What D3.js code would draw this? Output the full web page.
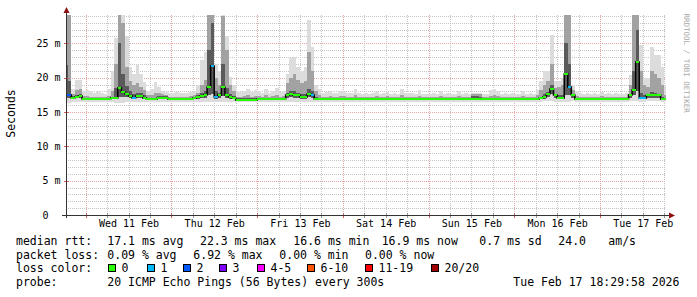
<!DOCTYPE html>
<html>
<head>
<meta charset="utf-8">
<script src="https://cdn.jsdelivr.net/npm/d3@7"></script>
<style>
  body { margin: 0; background: #fff; }
  svg { display: block; font-family: "DejaVu Sans Mono", monospace; }
</style>
</head>
<body>
<svg id="chart" width="697" height="297"></svg>
<script>
// one value per clock hour, first bin starts Tue 10 Feb 18:00 (last one is Tue 17 Feb 18:00)
const medianMs = [
  17.4, 17.4, 17.1, 17.2, 17.3, 16.9,
  16.85, 16.85, 16.85, 16.85, 16.85, 16.85, 16.9, 17.0, 17.0, 18.45, 17.85, 17.57, 17.3, 17.07, 17.3, 17.3, 17.07, 16.9, 16.85, 16.85, 17.1, 17.1, 17.1, 16.85,
  16.85, 16.85, 16.85, 16.85, 16.85, 16.9, 17.0, 17.2, 17.3, 17.47, 18.6, 21.7, 17.2, 17.47, 18.7, 17.47, 17.2, 17.0, 16.8, 16.8, 16.8, 16.8, 16.8, 16.8,
  16.85, 16.85, 16.85, 16.85, 16.85, 16.85, 16.85, 16.85, 17.5, 17.6, 17.4, 17.4, 17.2, 17.2, 17.6, 17.4, 16.9, 16.85, 16.85, 16.85, 16.85, 16.85, 16.85, 16.85,
  16.85, 16.85, 16.85, 16.85, 16.85, 16.85, 16.85, 16.85, 16.85, 16.85, 16.85, 16.85, 16.85, 16.85, 16.85, 16.85, 16.85, 16.85, 16.85, 16.85, 16.85, 16.85, 16.85, 16.85,
  16.85, 16.85, 16.85, 16.85, 16.85, 16.85, 16.85, 16.85, 16.85, 16.85, 16.85, 16.85, 16.95, 16.95, 16.9, 16.85, 16.85, 16.85, 16.85, 16.85, 16.85, 16.85, 16.85, 16.85,
  16.85, 16.85, 16.85, 16.85, 16.85, 16.85, 16.85, 17.0, 17.2, 17.6, 18.3, 17.4, 17.1, 17.1, 20.5, 18.6, 17.4, 16.85, 16.85, 16.85, 16.85, 16.85, 16.85, 16.85,
  16.85, 16.85, 16.85, 16.85, 16.85, 16.85, 16.85, 16.85, 17.4, 18.2, 22.3, 17.1, 17.1, 17.4, 17.4, 17.4, 17.4, 16.9, 16.85
];
// lost pings out of 20
const lossCount = [
  2, 2, 0, 0, 0, 0,
  0, 0, 0, 0, 0, 0, 0, 0, 0, 0, 0, 0, 0, 1, 0, 0, 0, 0, 0, 0, 0, 0, 0, 0,
  0, 0, 0, 0, 0, 0, 0, 0, 0, 0, 0, 1, 1, 0, 0, 0, 0, 0, 0, 0, 0, 0, 0, 0,
  0, 0, 0, 0, 0, 0, 0, 0, 0, 0, 0, 0, 0, 0, 0, 1, 0, 0, 0, 0, 0, 0, 0, 0,
  0, 0, 0, 0, 0, 0, 0, 0, 0, 0, 0, 0, 0, 0, 0, 0, 0, 0, 0, 0, 0, 0, 0, 0,
  0, 0, 0, 0, 0, 0, 0, 0, 0, 0, 0, 0, 0, 0, 0, 0, 0, 0, 0, 0, 0, 0, 0, 0,
  0, 0, 0, 0, 0, 0, 0, 0, 0, 0, 0, 0, 0, 0, 0, 1, 0, 0, 0, 0, 0, 0, 0, 0,
  0, 0, 0, 0, 0, 0, 0, 0, 0, 0, 0, 1, 1, 0, 0, 0, 0, 0, 0
];
// outer smoke (fastest .. slowest ping)
const lowMs = [
  16.3, 16.3, 16.5, 16.5, 16.5, 16.45,
  16.45, 16.45, 16.45, 16.45, 16.45, 16.45, 16.45, 16.4, 16.3, 16.3, 16.35, 16.5, 16.5, 16.45, 16.45, 16.45, 16.45, 16.45, 16.45, 16.45, 16.5, 16.5, 16.5, 16.45,
  16.45, 16.45, 16.45, 16.45, 16.45, 16.45, 16.45, 16.5, 16.5, 16.5, 16.4, 16.4, 16.4, 16.5, 16.4, 16.5, 16.5, 16.45, 16.4, 16.4, 16.4, 16.4, 16.4, 16.4,
  16.45, 16.45, 16.45, 16.45, 16.45, 16.45, 16.45, 16.45, 16.5, 16.5, 16.5, 16.5, 16.5, 16.5, 16.5, 16.5, 16.45, 16.45, 16.45, 16.45, 16.45, 16.45, 16.45, 16.45,
  16.45, 16.45, 16.45, 16.45, 16.45, 16.45, 16.45, 16.45, 16.45, 16.45, 16.45, 16.45, 16.45, 16.45, 16.45, 16.45, 16.45, 16.45, 16.45, 16.45, 16.45, 16.45, 16.45, 16.45,
  16.45, 16.45, 16.45, 16.45, 16.45, 16.45, 16.45, 16.45, 16.45, 16.45, 16.45, 16.45, 16.45, 16.45, 16.45, 16.45, 16.45, 16.45, 16.45, 16.45, 16.45, 16.45, 16.45, 16.45,
  16.45, 16.45, 16.45, 16.45, 16.45, 16.45, 16.45, 16.5, 16.6, 16.6, 16.6, 16.5, 16.5, 16.5, 16.5, 16.5, 16.6, 16.45, 16.45, 16.45, 16.45, 16.45, 16.45, 16.45,
  16.45, 16.45, 16.45, 16.45, 16.45, 16.45, 16.45, 16.45, 16.6, 16.6, 16.6, 16.5, 16.5, 16.6, 16.6, 16.6, 16.6, 16.5, 16.45
];
const highMs = [
  29.5, 29.5, 18.4, 19.6, 19.6, 18.0,
  18.2, 18.0, 17.8, 18.0, 17.8, 17.6, 18.3, 20.9, 25.7, 29.5, 29.5, 26.0, 21.6, 20.5, 21.8, 20.5, 19.4, 18.0, 18.3, 19.4, 18.7, 18.0, 17.9, 17.8,
  17.8, 17.9, 17.8, 17.8, 17.7, 17.9, 18.1, 19.0, 22.5, 23.8, 29.5, 29.5, 22.0, 21.0, 29.5, 26.0, 20.1, 18.9, 18.0, 17.9, 18.1, 18.4, 17.9, 18.2,
  18.0, 17.8, 18.4, 17.8, 18.0, 18.5, 17.9, 18.0, 20.5, 22.8, 23.0, 21.5, 20.9, 21.5, 28.4, 24.5, 19.0, 18.4, 17.8, 17.9, 18.0, 17.7, 17.8, 18.0,
  18.0, 17.8, 17.7, 18.4, 17.8, 17.6, 17.7, 17.6, 17.7, 17.9, 17.6, 17.7, 17.9, 17.6, 17.7, 17.6, 18.4, 17.8, 17.8, 17.8, 17.6, 18.2, 17.6, 17.6,
  17.6, 17.8, 17.6, 18.0, 17.6, 17.7, 17.6, 17.6, 18.0, 17.6, 17.7, 17.6, 17.8, 17.8, 17.8, 17.6, 17.6, 18.2, 18.4, 18.0, 17.6, 17.8, 17.6, 17.7,
  17.6, 17.6, 18.1, 17.6, 17.8, 17.6, 18.2, 19.5, 20.9, 21.0, 26.2, 19.5, 19.5, 20.0, 29.5, 29.5, 19.0, 18.0, 17.8, 17.6, 17.7, 17.6, 17.8, 17.6,
  17.9, 17.6, 17.8, 17.6, 17.7, 17.6, 17.6, 17.7, 20.4, 29.5, 29.5, 24.7, 20.0, 19.9, 24.5, 23.3, 23.3, 21.5, 19.0
];
// inner smoke: medium band and dark core share the lower edge
const innerLowMs = [
  17.0, 17.0, 16.9, 17.0, 17.0, 16.75,
  16.75, 16.75, 16.75, 16.75, 16.75, 16.75, 16.8, 16.85, 16.9, 17.2, 17.2, 17.2, 17.0, 16.9, 17.0, 17.0, 16.9, 16.8, 16.75, 16.75, 16.9, 16.9, 16.9, 16.75,
  16.75, 16.75, 16.75, 16.75, 16.75, 16.8, 16.85, 16.95, 17.0, 17.1, 17.4, 17.6, 16.9, 17.1, 17.3, 17.1, 16.95, 16.85, 16.7, 16.7, 16.7, 16.7, 16.7, 16.7,
  16.75, 16.75, 16.75, 16.75, 16.75, 16.75, 16.75, 16.75, 17.1, 17.2, 17.1, 17.1, 16.95, 16.95, 17.2, 17.1, 16.8, 16.75, 16.75, 16.75, 16.75, 16.75, 16.75, 16.75,
  16.75, 16.75, 16.75, 16.75, 16.75, 16.75, 16.75, 16.75, 16.75, 16.75, 16.75, 16.75, 16.75, 16.75, 16.75, 16.75, 16.75, 16.75, 16.75, 16.75, 16.75, 16.75, 16.75, 16.75,
  16.75, 16.75, 16.75, 16.75, 16.75, 16.75, 16.75, 16.75, 16.75, 16.75, 16.75, 16.75, 16.8, 16.8, 16.8, 16.75, 16.75, 16.75, 16.75, 16.75, 16.75, 16.75, 16.75, 16.75,
  16.75, 16.75, 16.75, 16.75, 16.75, 16.75, 16.75, 16.85, 16.95, 17.2, 17.6, 17.1, 16.9, 16.9, 17.4, 17.5, 17.1, 16.75, 16.75, 16.75, 16.75, 16.75, 16.75, 16.75,
  16.75, 16.75, 16.75, 16.75, 16.75, 16.75, 16.75, 16.75, 17.1, 17.5, 18.0, 16.9, 16.9, 17.1, 17.1, 17.1, 17.1, 16.8, 16.75
];
const midMs = [
  29.5, 29.5, 17.6, 18.2, 18.3, 17.3,
  17.3, 17.2, 17.2, 17.2, 17.2, 17.2, 17.3, 18.0, 22.0, 29.5, 28.0, 21.5, 19.5, 19.0, 19.2, 18.6, 18.2, 17.5, 17.4, 17.8, 17.8, 17.6, 17.5, 17.2,
  17.2, 17.2, 17.2, 17.2, 17.2, 17.3, 17.4, 17.8, 19.0, 19.7, 29.5, 29.5, 20.0, 19.0, 29.0, 24.0, 19.0, 18.0, 17.2, 17.2, 17.3, 17.4, 17.2, 17.3,
  17.3, 17.2, 17.4, 17.2, 17.3, 17.5, 17.2, 17.3, 19.2, 20.0, 20.5, 19.6, 19.2, 19.5, 23.8, 21.0, 18.0, 17.4, 17.2, 17.2, 17.3, 17.2, 17.2, 17.3,
  17.3, 17.2, 17.2, 17.4, 17.2, 17.2, 17.2, 17.2, 17.2, 17.3, 17.2, 17.2, 17.3, 17.2, 17.2, 17.2, 17.4, 17.2, 17.2, 17.2, 17.2, 17.3, 17.2, 17.2,
  17.2, 17.2, 17.2, 17.3, 17.2, 17.2, 17.2, 17.2, 17.3, 17.2, 17.2, 17.2, 17.6, 17.6, 17.6, 17.2, 17.2, 17.3, 17.4, 17.3, 17.2, 17.2, 17.2, 17.2,
  17.2, 17.2, 17.3, 17.2, 17.2, 17.2, 17.4, 18.2, 19.0, 19.5, 22.0, 18.5, 18.6, 19.0, 29.5, 29.5, 18.2, 17.3, 17.2, 17.2, 17.2, 17.2, 17.2, 17.2,
  17.3, 17.2, 17.2, 17.2, 17.2, 17.2, 17.2, 17.2, 19.0, 29.5, 29.5, 21.0, 19.0, 18.6, 21.0, 20.5, 20.0, 19.0, 17.5
];
const coreMs = [
  21.8, 19.5, 17.3, 17.5, 17.6, 17.0,
  17.0, 17.0, 17.0, 17.0, 17.0, 17.0, 17.0, 17.2, 18.5, 25.0, 20.5, 18.8, 18.0, 17.6, 17.8, 17.7, 17.4, 17.1, 17.0, 17.1, 17.3, 17.3, 17.3, 17.0,
  17.0, 17.0, 17.0, 17.0, 17.0, 17.0, 17.1, 17.4, 17.7, 18.0, 24.0, 28.0, 18.0, 17.8, 22.0, 18.5, 17.6, 17.3, 17.0, 17.0, 17.0, 17.0, 17.0, 17.0,
  17.0, 17.0, 17.0, 17.0, 17.0, 17.0, 17.0, 17.0, 17.8, 18.0, 18.0, 17.8, 17.6, 17.6, 18.4, 18.0, 17.2, 17.0, 17.0, 17.0, 17.0, 17.0, 17.0, 17.0,
  17.0, 17.0, 17.0, 17.0, 17.0, 17.0, 17.0, 17.0, 17.0, 17.0, 17.0, 17.0, 17.0, 17.0, 17.0, 17.0, 17.0, 17.0, 17.0, 17.0, 17.0, 17.0, 17.0, 17.0,
  17.0, 17.0, 17.0, 17.0, 17.0, 17.0, 17.0, 17.0, 17.0, 17.0, 17.0, 17.0, 17.3, 17.3, 17.2, 17.0, 17.0, 17.0, 17.0, 17.0, 17.0, 17.0, 17.0, 17.0,
  17.0, 17.0, 17.0, 17.0, 17.0, 17.0, 17.0, 17.2, 17.6, 17.9, 19.0, 17.6, 17.4, 17.5, 25.0, 22.0, 17.5, 17.0, 17.0, 17.0, 17.0, 17.0, 17.0, 17.0,
  17.0, 17.0, 17.0, 17.0, 17.0, 17.0, 17.0, 17.0, 17.6, 21.0, 27.0, 17.8, 17.5, 17.6, 17.9, 17.7, 17.6, 17.2, 17.0
];

const lossLabels = ["0", "1", "2", "3", "4-5", "6-10", "11-19", "20/20"];
const lossColors = ["#26ff00", "#00b8ff", "#0059ff", "#7e00ff", "#ff00ff", "#ff5500", "#ff0000", "#a10000"];
const yTickValues = [0, 5, 10, 15, 20, 25];
const rttStats = ["17.1 ms avg", "22.3 ms max", "16.6 ms min", "16.9 ms now", "0.7 ms sd", "24.0", "am/s"];
const lossStats = ["0.09 % avg", "6.92 % max", "0.00 % min", "0.00 % now"];
const probeText = "20 ICMP Echo Pings (56 Bytes) every 300s";
const stampText = "Tue Feb 17 18:29:58 2026";

class smokeGraph {
    constructor(_config) {
        this.config = {
            parentElement: _config.parentElement,
            plot: _config.plot || { left: 66, right: 666, top: 15, bottom: 215 },
        }
        this.start = _config.start;
        this.end = _config.end;
        this.firstBin = _config.firstBin;
        this.yMax = _config.yMax;
        this.initVis();
    }

    initVis() {
        let vis = this;
        const p = vis.config.plot;
        vis.svg = d3.select(vis.config.parentElement);

        vis.xScale = d3.scaleTime().domain([vis.start, vis.end]).range([p.left, p.right]);
        vis.yScale = d3.scaleLinear().domain([0, vis.yMax]).range([p.bottom, p.top]);
        vis.lossColour = d3.scaleThreshold().domain([1, 2, 3, 4, 6, 11, 20]).range(lossColors);

        vis.svg.append('defs').append('clipPath').attr('id', 'plot-clip')
            .append('rect')
            .attr('x', p.left).attr('y', p.top)
            .attr('width', p.right - p.left).attr('height', p.bottom - p.top);

        vis.bins = medianMs.map((m, i) => ({
            t0: d3.timeHour.offset(vis.firstBin, i),
            t1: d3.timeHour.offset(vis.firstBin, i + 1),
            med: m,
            loss: lossCount[i],
            lo: lowMs[i], hi: highMs[i],
            innerLo: innerLowMs[i], mid: midMs[i], core: coreMs[i],
        }));
    }

    render() {
        let vis = this;
        const p = vis.config.plot;
        const x = vis.xScale, y = vis.yScale;
        const px = v => Math.round(v) + 0.5;

        // grid
        const grid = vis.svg.append('g').attr('class', 'grid').attr('stroke-dasharray', '1,1');
        const minorY = d3.range(1, Math.floor(vis.yMax) + 1).filter(v => v % 5 !== 0);
        const majorY = yTickValues.filter(v => v > 0);
        const minorX = d3.timeHour.every(6).range(vis.start, vis.end).filter(d => d.getHours() !== 0);
        const majorX = d3.timeDay.range(vis.start, vis.end);

        grid.selectAll('line.hmin').data(minorY).join('line')
            .attr('x1', p.left).attr('x2', p.right)
            .attr('y1', d => px(y(d))).attr('y2', d => px(y(d)))
            .attr('stroke', '#c4c4c4');
        grid.selectAll('line.vmin').data(minorX).join('line')
            .attr('x1', d => px(x(d))).attr('x2', d => px(x(d)))
            .attr('y1', p.top).attr('y2', p.bottom)
            .attr('stroke', '#c4c4c4');
        grid.selectAll('line.hmaj').data(majorY).join('line')
            .attr('x1', p.left).attr('x2', p.right)
            .attr('y1', d => px(y(d))).attr('y2', d => px(y(d)))
            .attr('stroke', '#e8a6a6');
        grid.selectAll('line.vmaj').data(majorX).join('line')
            .attr('x1', d => px(x(d))).attr('x2', d => px(x(d)))
            .attr('y1', p.top).attr('y2', p.bottom)
            .attr('stroke', '#e8a6a6');

        // smoke
        const smoke = vis.svg.append('g').attr('clip-path', 'url(#plot-clip)').attr('shape-rendering', 'crispEdges');
        const bx0 = d => Math.round(x(d.t0)), bx1 = d => Math.round(x(d.t1));
        const bands = [
            { lo: d => d.lo, hi: d => d.hi, colour: '#dcdcdc' },
            { lo: d => d.innerLo, hi: d => d.mid, colour: '#a2a2a2' },
            { lo: d => d.innerLo, hi: d => d.core, colour: '#5a5a5a' },
        ];
        bands.forEach(b => {
            smoke.append('g').selectAll('rect')
                .data(vis.bins.filter(d => b.hi(d) > b.lo(d)))
                .join('rect')
                .attr('x', bx0)
                .attr('width', d => bx1(d) - bx0(d))
                .attr('y', d => Math.round(y(b.hi(d))))
                .attr('height', d => Math.max(1, Math.round(y(b.lo(d))) - Math.round(y(b.hi(d)))))
                .attr('fill', b.colour);
        });

        // median: dark step line, loss coloured segments on top
        const medPts = [];
        vis.bins.forEach(d => { medPts.push([x(d.t0), Math.round(y(d.med))]); medPts.push([x(d.t1), Math.round(y(d.med))]); });
        smoke.append('path')
            .attr('d', d3.line()(medPts))
            .attr('fill', 'none').attr('stroke', '#000').attr('stroke-width', 1.5)
            .attr('shape-rendering', 'auto');
        smoke.append('g').selectAll('rect')
            .data(vis.bins).join('rect')
            .attr('x', bx0)
            .attr('width', d => bx1(d) - bx0(d))
            .attr('y', d => Math.round(y(d.med)) - 1)
            .attr('height', 2)
            .attr('fill', d => vis.lossColour(d.loss));

        // axes
        const yAxis = vis.svg.append('g')
            .attr('transform', `translate(${p.left + 0.5},0)`)
            .call(d3.axisLeft(y).tickValues(yTickValues).tickSize(0).tickPadding(6)
                .tickFormat(d => d === 0 ? '0\u00a0\u00a0' : `${d} m`));
        yAxis.select('.domain').remove();
        yAxis.selectAll('text').attr('font-family', '"DejaVu Sans Mono", monospace').attr('font-size', 10).attr('fill', '#000');

        const noons = d3.timeDay.range(vis.start, vis.end).map(d => d3.timeHour.offset(d, 12));
        const xAxis = vis.svg.append('g')
            .attr('transform', `translate(0,${p.bottom})`)
            .call(d3.axisBottom(x).tickValues(noons).tickSize(0).tickPadding(5)
                .tickFormat(d3.timeFormat('%a %d %b')));
        xAxis.select('.domain').remove();
        xAxis.selectAll('text').attr('font-family', '"DejaVu Sans Mono", monospace').attr('font-size', 10).attr('fill', '#000');

        // small tick marks on the axes
        const ticks = vis.svg.append('g').attr('shape-rendering', 'crispEdges');
        ticks.selectAll('line.xt').data(minorX.concat(majorX)).join('line')
            .attr('x1', d => px(x(d))).attr('x2', d => px(x(d)))
            .attr('y1', p.bottom - 2).attr('y2', p.bottom + 3)
            .attr('stroke', d => d.getHours() === 0 ? '#d06060' : '#999');
        ticks.selectAll('line.yt').data(majorY).join('line')
            .attr('x1', p.left - 2).attr('x2', p.left + 3)
            .attr('y1', d => px(y(d))).attr('y2', d => px(y(d)))
            .attr('stroke', '#d06060');

        const axes = vis.svg.append('g').attr('shape-rendering', 'crispEdges');
        axes.append('line')
            .attr('x1', p.left + 0.5).attr('x2', p.left + 0.5)
            .attr('y1', p.bottom + 3).attr('y2', 11)
            .attr('stroke', '#333');
        axes.append('line')
            .attr('x1', p.left - 4).attr('x2', 670)
            .attr('y1', p.bottom + 0.5).attr('y2', p.bottom + 0.5)
            .attr('stroke', '#333');
        vis.svg.append('path')
            .attr('d', `M${p.left - 2.5},13 L${p.left + 3.5},13 L${p.left + 0.5},7 Z`)
            .attr('fill', '#8b1010');
        vis.svg.append('path')
            .attr('d', `M669,${p.bottom - 2.5} L669,${p.bottom + 3.5} L675,${p.bottom + 0.5} Z`)
            .attr('fill', '#8b1010');

        vis.svg.append('text')
            .attr('transform', 'translate(15,113.5) rotate(-90)')
            .attr('text-anchor', 'middle')
            .attr('font-size', 11.5)
            .text('Seconds');

        vis.svg.append('text')
            .attr('transform', 'translate(683.5,13.5) rotate(90)')
            .attr('font-size', 7.5)
            .attr('fill', '#a8a8a8')
            .text('RRDTOOL / TOBI OETIKER');

        vis.renderLegend();
    }

    renderLegend() {
        let vis = this;
        const lg = vis.svg.append('g').attr('font-size', 11.5).attr('fill', '#000').style('white-space', 'pre');
        const put = (xp, yp, t) => lg.append('text').attr('x', xp).attr('y', yp).text(t);

        put(16, 245, 'median rtt:');
        [107.3, 200, 293.3, 381.7, 479.3, 558.3, 608.3].forEach((xp, i) => put(xp, 245, rttStats[i]));

        put(16, 258.5, 'packet loss:');
        [107.3, 193.3, 279.3, 365].forEach((xp, i) => put(xp, 258.5, lossStats[i]));

        put(16, 272, 'loss color:');
        const boxX = [108, 146.5, 183, 219, 256.5, 306.5, 365, 430.5];
        boxX.forEach((xp, i) => {
            lg.append('rect')
                .attr('x', Math.round(xp) + 0.5).attr('y', 264.5)
                .attr('width', 7).attr('height', 7)
                .attr('fill', lossColors[i]).attr('stroke', '#000')
                .attr('shape-rendering', 'crispEdges');
            put(Math.round(xp) + 13.5, 272, lossLabels[i]);
        });

        put(16, 285.5, 'probe:');
        put(107.3, 285.5, probeText);
        put(513.3, 285.5, stampText);
    }
}

const graph = new smokeGraph({
    parentElement: '#chart',
    start: new Date(2026, 1, 10, 18, 29, 58),
    end: new Date(2026, 1, 17, 18, 29, 58),
    firstBin: new Date(2026, 1, 10, 18, 0, 0),
    yMax: 29.12,
});
graph.render();
</script>
</body>
</html>
